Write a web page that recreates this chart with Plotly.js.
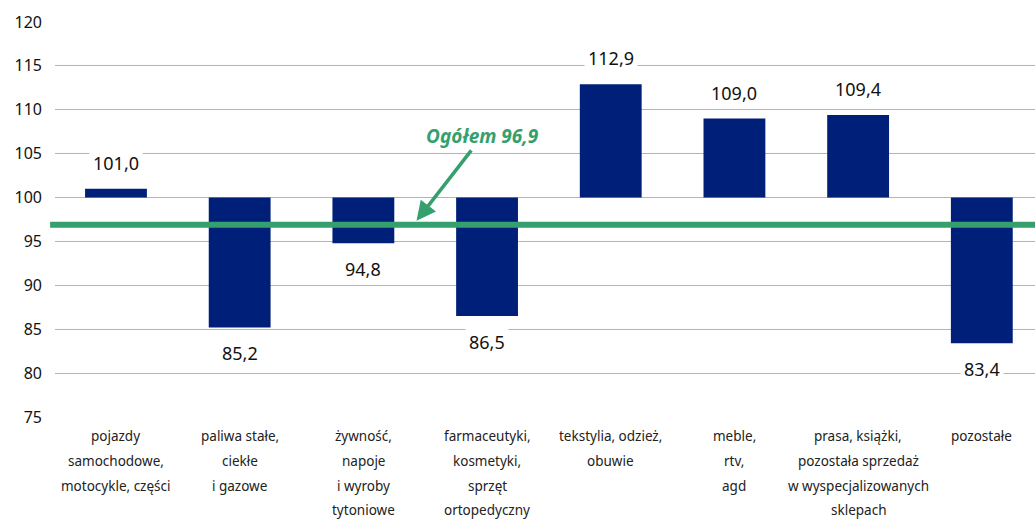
<!DOCTYPE html>
<html><head><meta charset="utf-8">
<script src="https://cdn.plot.ly/plotly-3.0.1.min.js"></script>
<style>html,body{margin:0;padding:0;background:#fff;}#chart{width:1035px;height:521px;}</style>
</head><body><div id="chart"></div>
<script>
const categories = [
  ["pojazdy", "samochodowe,", "motocykle, części"],
  ["paliwa stałe,", "ciekłe", "i gazowe"],
  ["żywność,", "napoje", "i wyroby", "tytoniowe"],
  ["farmaceutyki,", "kosmetyki,", "sprzęt", "ortopedyczny"],
  ["tekstylia, odzież,", "obuwie"],
  ["meble,", "rtv,", "agd"],
  ["prasa, książki,", "pozostała sprzedaż", "w wyspecjalizowanych", "sklepach"],
  ["pozostałe"]
];
const values = [101.0, 85.2, 94.8, 86.5, 112.9, 109.0, 109.4, 83.4];
const baseline = 100;
const total = 96.9;
const totalLabel = "Ogółem 96,9";
const yTicks = [75, 80, 85, 90, 95, 100, 105, 110, 115, 120];

const xs = categories.map((c, i) => i);
const fmt = v => v.toFixed(1).replace('.', ',');

const trace = {
  type: 'bar',
  x: xs,
  y: values.map(v => v - baseline),
  base: values.map(() => baseline),
  width: 0.5,
  marker: {color: '#001f78', line: {width: 0}},
  hoverinfo: 'skip',
  cliponaxis: false
};

const annotations = [];
values.forEach((v, i) => {
  annotations.push({
    x: i, y: v, xref: 'x', yref: 'y',
    text: fmt(v), showarrow: false,
    yshift: v >= baseline ? 26 : -26,
    bgcolor: '#ffffff', borderpad: 3,
    font: {family: 'Noto Sans, sans-serif', size: 18, color: '#111'}
  });
});
categories.forEach((lines, i) => {
  lines.forEach((ln, j) => {
    annotations.push({
      x: i, y: 0, xref: 'x', yref: 'paper',
      text: ln, showarrow: false, yanchor: 'middle',
      yshift: -19 - j * 24.8,
      font: {family: 'Noto Sans, sans-serif', size: 13.5, color: '#222'}
    });
  });
});
annotations.push({
  x: 2.43, y: total + 0.45, xref: 'x', yref: 'y',
  text: '<b><i>' + totalLabel + '</i></b>',
  showarrow: true, arrowhead: 2, arrowsize: 1.1, arrowwidth: 3.5,
  arrowcolor: '#35a06e', ax: 66, ay: -85,
  font: {family: 'Noto Sans, sans-serif', size: 19, color: '#35a06e'}
});

const layout = {
  width: 1035, height: 521,
  margin: {l: 55, r: 0, t: 22, b: 104},
  paper_bgcolor: '#fff', plot_bgcolor: '#fff',
  showlegend: false,
  xaxis: {
    range: [-0.493, 7.43],
    showticklabels: false, showgrid: false, zeroline: false,
    showline: false, ticks: '', fixedrange: true
  },
  yaxis: {
    range: [75, 120], tickvals: yTicks, ticktext: yTicks.map(String),
    showgrid: true, gridcolor: '#b4b4b4', gridwidth: 1,
    zeroline: false, showline: false, ticks: '', ticklabelstandoff: 12,
    tickfont: {family: 'Noto Sans, sans-serif', size: 16, color: '#111'}
  },
  shapes: [{
    type: 'line', xref: 'paper', yref: 'y',
    x0: -0.005, x1: 1, y0: total, y1: total,
    line: {color: '#35a06e', width: 6}, layer: 'above'
  }],
  annotations: annotations
};

Plotly.newPlot('chart', [trace], layout, {displayModeBar: false, staticPlot: true});
</script>
</body></html>
